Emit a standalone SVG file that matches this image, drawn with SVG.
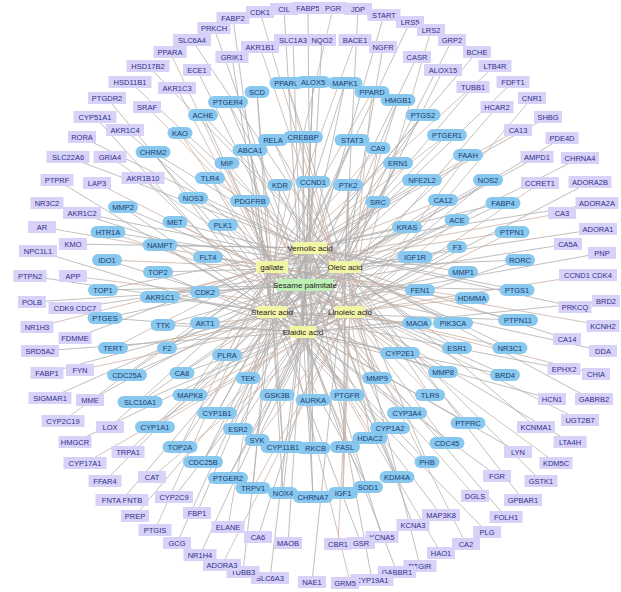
<svg xmlns="http://www.w3.org/2000/svg" width="621" height="592" viewBox="0 0 621 592">
<style>
text{font-family:"Liberation Sans",Arial,sans-serif;font-size:7.5px;text-anchor:middle}
.o rect{fill:#d8d2f8}
.o text{fill:#30308a}
.i rect{fill:#88c7ee}
.i text{fill:#1a3c72}
.c rect{fill:#f3f5a6}
.c.g rect{fill:#bdf0b4}
.c text{fill:#222;font-size:8px}
.e{fill:none;stroke:#aeaeae;stroke-width:0.8}
.e2{fill:none;stroke:#ccb2a4;stroke-width:0.8}
</style>
<rect width="621" height="592" fill="#fff"/>
<g id="connectors">
<path class="e" d="M310 248L308 8M310 248L477 52M310 248L548 117M310 248L600 203M310 248L575 307M310 248L591 399M310 248L541 481M310 248L413 525M310 248L372 580M310 248L177 543M310 248L197 513M310 248L110 427M310 248L75 338M310 248L73 244M310 248L68 157M310 248L130 82M310 248L322 40M310 248L345 83M310 248L423 115M310 248L503 203M310 248L517 290M310 248L468 423M310 248L397 477M310 248L283 493M310 248L203 462M310 248L127 375M310 248L103 290M310 248L153 152M310 248L228 102M310 248L352 140M310 248L422 180M310 248L463 272M310 248L457 348M310 248L390 428M310 248L313 448M310 248L217 413M310 248L313 400M310 248L417 323M310 248L407 227M310 248L280 185M310 248L193 198M310 248L160 245M310 248L205 292M310 248L167 348M310 248L248 378"/>
<path class="e2" d="M272 267L170 52M272 267L333 8M272 267L495 66M272 267L518 130M272 267L562 213M272 267L606 326M272 267L580 420M272 267L475 496M272 267L441 553M272 267L350 582M272 267L155 530M272 267L228 527M272 267L63 421M272 267L37 327M272 267L42 227M272 267L110 157M272 267L177 88M272 267L355 40M272 267L257 92M272 267L372 92M272 267L447 135M272 267L512 232M272 267L518 320M272 267L447 443M272 267L368 487M272 267L253 488M272 267L180 447M272 267L113 348M272 267L107 260M272 267L180 133M272 267L250 150M272 267L378 148M272 267L443 200M272 267L472 298M272 267L443 372M272 267L370 438M272 267L283 447M272 267L190 395M272 267L347 395M272 267L420 290M272 267L378 202M272 267L227 163M272 267L250 201M272 267L208 257M272 267L160 297M272 267L227 355"/>
<path class="e" d="M345 267L192 40M345 267L358 9M345 267L443 70M345 267L562 138M345 267L598 229M345 267L567 339M345 267L536 427M345 267L523 500M345 267L420 566M345 267L312 582M345 267L135 516M345 267L258 537M345 267L50 398M345 267L75 308M345 267L82 213M345 267L82 137M345 267L148 66M345 267L383 47M345 267L287 83M345 267L398 100M345 267L468 155M345 267L520 260M345 267L510 348M345 267L427 462M345 267L343 493M345 267L228 478M345 267L155 427M345 267L105 318M345 267L108 232M345 267L203 115M345 267L273 140M345 267L398 163M345 267L457 220M345 267L453 323M345 267L430 395M345 267L345 447M345 267L257 440M345 267L277 395M345 267L377 378M345 267L415 257M345 267L348 185M345 267L210 178M345 267L175 222M345 267L158 272M345 267L205 323M345 267L182 373"/>
<path class="e" d="M305 285L214 28M305 285L384 15M305 285L473 87M305 285L537 157M305 285L568 244M305 285L603 351M305 285L570 442M305 285L506 517M305 285L382 537M305 285L270 578M305 285L122 500M305 285L288 543M305 285L90 400M305 285L32 302M305 285L47 203M305 285L125 130M305 285L197 70M305 285L417 57M305 285L313 82M305 285L423 115M305 285L488 180M305 285L517 290M305 285L505 375M305 285L397 477M305 285L313 497M305 285L203 462M305 285L140 402M305 285L103 290M305 285L123 207M305 285L228 102M305 285L303 137M305 285L422 180M305 285L457 247M305 285L457 348M305 285L407 413M305 285L313 448M305 285L238 429M305 285L313 400M305 285L400 353M305 285L407 227M305 285L313 182M305 285L193 198M305 285L223 225M305 285L205 292M305 285L163 325M305 285L248 378"/>
<path class="e" d="M272 312L233 18M272 312L410 22M272 312L513 82M272 312L580 158M272 312L602 253M272 312L564 369M272 312L518 452M272 312L487 532M272 312L361 543M272 312L243 572M272 312L105 481M272 312L128 452M272 312L47 373M272 312L30 276M272 312L57 180M272 312L95 117M272 312L232 57M272 312L257 92M272 312L345 83M272 312L447 135M272 312L503 203M272 312L518 320M272 312L468 423M272 312L368 487M272 312L283 493M272 312L180 447M272 312L127 375M272 312L107 260M272 312L153 152M272 312L250 150M272 312L352 140M272 312L443 200M272 312L463 272M272 312L443 372M272 312L390 428M272 312L283 447M272 312L217 413M272 312L347 395M272 312L417 323M272 312L378 202M272 312L280 185M272 312L250 201M272 312L160 245M272 312L160 297M272 312L167 348"/>
<path class="e2" d="M350 312L260 12M350 312L431 30M350 312L532 98M350 312L540 183M350 312L588 275M350 312L596 374M350 312L556 463M350 312L466 544M350 312L338 544M350 312L222 565M350 312L152 477M350 312L85 463M350 312L80 370M350 312L73 276M350 312L97 183M350 312L147 107M350 312L260 47M350 312L287 83M350 312L372 92M350 312L468 155M350 312L512 232M350 312L510 348M350 312L447 443M350 312L343 493M350 312L253 488M350 312L155 427M350 312L113 348M350 312L108 232M350 312L180 133M350 312L273 140M350 312L378 148M350 312L457 220M350 312L472 298M350 312L430 395M350 312L370 438M350 312L257 440M350 312L190 395M350 312L377 378M350 312L420 290M350 312L348 185M350 312L227 163M350 312L175 222M350 312L208 257M350 312L205 323M350 312L227 355"/>
<path class="e" d="M303 332L284 9M303 332L452 40M303 332L497 107M303 332L590 182M303 332L606 301M303 332L552 399M303 332L497 476M303 332L441 515M303 332L397 572M303 332L200 555M303 332L174 497M303 332L75 442M303 332L40 351M303 332L38 251M303 332L143 178M303 332L107 98M303 332L293 40M303 332L313 82M303 332L398 100M303 332L488 180M303 332L520 260M303 332L505 375M303 332L427 462M303 332L313 497M303 332L228 478M303 332L140 402M303 332L105 318M303 332L123 207M303 332L203 115M303 332L303 137M303 332L398 163M303 332L457 247M303 332L453 323M303 332L407 413M303 332L345 447M303 332L238 429M303 332L277 395M303 332L400 353M303 332L415 257M303 332L313 182M303 332L210 178M303 332L223 225M303 332L158 272M303 332L163 325M303 332L182 373"/>
</g>
<g id="outer-nodes">
<g id="o-PPARA" class="o" transform="translate(170 52)"><rect x="-16.5" y="-6" width="33" height="12"/><text y="2.6">PPARA</text></g>
<g id="o-SLC6A4" class="o" transform="translate(192 40)"><rect x="-19" y="-6" width="38" height="12"/><text y="2.6">SLC6A4</text></g>
<g id="o-PRKCH" class="o" transform="translate(214 28)"><rect x="-16.5" y="-6" width="33" height="12"/><text y="2.6">PRKCH</text></g>
<g id="o-FABP2" class="o" transform="translate(233 18)"><rect x="-16.5" y="-6" width="33" height="12"/><text y="2.6">FABP2</text></g>
<g id="o-CDK1" class="o" transform="translate(260 12)"><rect x="-14" y="-6" width="28" height="12"/><text y="2.6">CDK1</text></g>
<g id="o-CIL" class="o" transform="translate(284 9)"><rect x="-14" y="-6" width="28" height="12"/><text y="2.6">CIL</text></g>
<g id="o-FABP5" class="o" transform="translate(308 8)"><rect x="-16.5" y="-6" width="33" height="12"/><text y="2.6">FABP5</text></g>
<g id="o-PGR" class="o" transform="translate(333 8)"><rect x="-14" y="-6" width="28" height="12"/><text y="2.6">PGR</text></g>
<g id="o-JDP" class="o" transform="translate(358 9)"><rect x="-14" y="-6" width="28" height="12"/><text y="2.6">JDP</text></g>
<g id="o-START" class="o" transform="translate(384 15)"><rect x="-16.5" y="-6" width="33" height="12"/><text y="2.6">START</text></g>
<g id="o-LRS5" class="o" transform="translate(410 22)"><rect x="-14" y="-6" width="28" height="12"/><text y="2.6">LRS5</text></g>
<g id="o-LRS2" class="o" transform="translate(431 30)"><rect x="-14" y="-6" width="28" height="12"/><text y="2.6">LRS2</text></g>
<g id="o-GRP2" class="o" transform="translate(452 40)"><rect x="-14" y="-6" width="28" height="12"/><text y="2.6">GRP2</text></g>
<g id="o-BCHE" class="o" transform="translate(477 52)"><rect x="-14" y="-6" width="28" height="12"/><text y="2.6">BCHE</text></g>
<g id="o-LTB4R" class="o" transform="translate(495 66)"><rect x="-16.5" y="-6" width="33" height="12"/><text y="2.6">LTB4R</text></g>
<g id="o-ALOX15" class="o" transform="translate(443 70)"><rect x="-19" y="-6" width="38" height="12"/><text y="2.6">ALOX15</text></g>
<g id="o-TUBB1" class="o" transform="translate(473 87)"><rect x="-16.5" y="-6" width="33" height="12"/><text y="2.6">TUBB1</text></g>
<g id="o-FDFT1" class="o" transform="translate(513 82)"><rect x="-16.5" y="-6" width="33" height="12"/><text y="2.6">FDFT1</text></g>
<g id="o-CNR1" class="o" transform="translate(532 98)"><rect x="-14" y="-6" width="28" height="12"/><text y="2.6">CNR1</text></g>
<g id="o-HCAR2" class="o" transform="translate(497 107)"><rect x="-16.5" y="-6" width="33" height="12"/><text y="2.6">HCAR2</text></g>
<g id="o-SHBG" class="o" transform="translate(548 117)"><rect x="-14" y="-6" width="28" height="12"/><text y="2.6">SHBG</text></g>
<g id="o-CA13" class="o" transform="translate(518 130)"><rect x="-14" y="-6" width="28" height="12"/><text y="2.6">CA13</text></g>
<g id="o-PDE4D" class="o" transform="translate(562 138)"><rect x="-16.5" y="-6" width="33" height="12"/><text y="2.6">PDE4D</text></g>
<g id="o-AMPD1" class="o" transform="translate(537 157)"><rect x="-16.5" y="-6" width="33" height="12"/><text y="2.6">AMPD1</text></g>
<g id="o-CHRNA4" class="o" transform="translate(580 158)"><rect x="-19" y="-6" width="38" height="12"/><text y="2.6">CHRNA4</text></g>
<g id="o-CCRET1" class="o" transform="translate(540 183)"><rect x="-19" y="-6" width="38" height="12"/><text y="2.6">CCRET1</text></g>
<g id="o-ADORA2B" class="o" transform="translate(590 182)"><rect x="-21.5" y="-6" width="43" height="12"/><text y="2.6">ADORA2B</text></g>
<g id="o-ADORA2A" class="o" transform="translate(597 203)"><rect x="-21.5" y="-6" width="43" height="12"/><text y="2.6">ADORA2A</text></g>
<g id="o-CA3" class="o" transform="translate(562 213)"><rect x="-14" y="-6" width="28" height="12"/><text y="2.6">CA3</text></g>
<g id="o-ADORA1" class="o" transform="translate(598 229)"><rect x="-19" y="-6" width="38" height="12"/><text y="2.6">ADORA1</text></g>
<g id="o-CA5A" class="o" transform="translate(568 244)"><rect x="-14" y="-6" width="28" height="12"/><text y="2.6">CA5A</text></g>
<g id="o-PNP" class="o" transform="translate(602 253)"><rect x="-14" y="-6" width="28" height="12"/><text y="2.6">PNP</text></g>
<g id="o-CCND1-CDK4" class="o" transform="translate(588 275)"><rect x="-29" y="-6" width="58" height="12"/><text y="2.6">CCND1 CDK4</text></g>
<g id="o-BRD2" class="o" transform="translate(606 301)"><rect x="-14" y="-6" width="28" height="12"/><text y="2.6">BRD2</text></g>
<g id="o-PRKCQ" class="o" transform="translate(575 307)"><rect x="-16.5" y="-6" width="33" height="12"/><text y="2.6">PRKCQ</text></g>
<g id="o-KCNH2" class="o" transform="translate(603 326)"><rect x="-16.5" y="-6" width="33" height="12"/><text y="2.6">KCNH2</text></g>
<g id="o-CA14" class="o" transform="translate(567 339)"><rect x="-14" y="-6" width="28" height="12"/><text y="2.6">CA14</text></g>
<g id="o-DDA" class="o" transform="translate(603 351)"><rect x="-14" y="-6" width="28" height="12"/><text y="2.6">DDA</text></g>
<g id="o-EPHX2" class="o" transform="translate(564 369)"><rect x="-16.5" y="-6" width="33" height="12"/><text y="2.6">EPHX2</text></g>
<g id="o-CHIA" class="o" transform="translate(596 374)"><rect x="-14" y="-6" width="28" height="12"/><text y="2.6">CHIA</text></g>
<g id="o-HCN1" class="o" transform="translate(552 399)"><rect x="-14" y="-6" width="28" height="12"/><text y="2.6">HCN1</text></g>
<g id="o-GABRB2" class="o" transform="translate(594 399)"><rect x="-19" y="-6" width="38" height="12"/><text y="2.6">GABRB2</text></g>
<g id="o-UGT2B7" class="o" transform="translate(580 420)"><rect x="-19" y="-6" width="38" height="12"/><text y="2.6">UGT2B7</text></g>
<g id="o-KCNMA1" class="o" transform="translate(536 427)"><rect x="-19" y="-6" width="38" height="12"/><text y="2.6">KCNMA1</text></g>
<g id="o-LTA4H" class="o" transform="translate(570 442)"><rect x="-16.5" y="-6" width="33" height="12"/><text y="2.6">LTA4H</text></g>
<g id="o-LYN" class="o" transform="translate(518 452)"><rect x="-14" y="-6" width="28" height="12"/><text y="2.6">LYN</text></g>
<g id="o-KDM5C" class="o" transform="translate(556 463)"><rect x="-16.5" y="-6" width="33" height="12"/><text y="2.6">KDM5C</text></g>
<g id="o-FGR" class="o" transform="translate(497 476)"><rect x="-14" y="-6" width="28" height="12"/><text y="2.6">FGR</text></g>
<g id="o-GSTK1" class="o" transform="translate(541 481)"><rect x="-16.5" y="-6" width="33" height="12"/><text y="2.6">GSTK1</text></g>
<g id="o-DGLS" class="o" transform="translate(475 496)"><rect x="-14" y="-6" width="28" height="12"/><text y="2.6">DGLS</text></g>
<g id="o-GPBAR1" class="o" transform="translate(523 500)"><rect x="-19" y="-6" width="38" height="12"/><text y="2.6">GPBAR1</text></g>
<g id="o-FOLH1" class="o" transform="translate(506 517)"><rect x="-16.5" y="-6" width="33" height="12"/><text y="2.6">FOLH1</text></g>
<g id="o-PLG" class="o" transform="translate(487 532)"><rect x="-14" y="-6" width="28" height="12"/><text y="2.6">PLG</text></g>
<g id="o-CA2" class="o" transform="translate(466 544)"><rect x="-14" y="-6" width="28" height="12"/><text y="2.6">CA2</text></g>
<g id="o-MAP3K8" class="o" transform="translate(441 515)"><rect x="-19" y="-6" width="38" height="12"/><text y="2.6">MAP3K8</text></g>
<g id="o-KCNA3" class="o" transform="translate(413 525)"><rect x="-16.5" y="-6" width="33" height="12"/><text y="2.6">KCNA3</text></g>
<g id="o-HAO1" class="o" transform="translate(441 553)"><rect x="-14" y="-6" width="28" height="12"/><text y="2.6">HAO1</text></g>
<g id="o-PTGIR" class="o" transform="translate(420 566)"><rect x="-16.5" y="-6" width="33" height="12"/><text y="2.6">PTGIR</text></g>
<g id="o-KCNA5" class="o" transform="translate(382 537)"><rect x="-16.5" y="-6" width="33" height="12"/><text y="2.6">KCNA5</text></g>
<g id="o-GSR" class="o" transform="translate(361 543)"><rect x="-14" y="-6" width="28" height="12"/><text y="2.6">GSR</text></g>
<g id="o-CBR1" class="o" transform="translate(338 544)"><rect x="-14" y="-6" width="28" height="12"/><text y="2.6">CBR1</text></g>
<g id="o-GABBR1" class="o" transform="translate(397 572)"><rect x="-19" y="-6" width="38" height="12"/><text y="2.6">GABBR1</text></g>
<g id="o-CYP19A1" class="o" transform="translate(372 580)"><rect x="-21.5" y="-6" width="43" height="12"/><text y="2.6">CYP19A1</text></g>
<g id="o-GRM5" class="o" transform="translate(345 583)"><rect x="-14" y="-6" width="28" height="12"/><text y="2.6">GRM5</text></g>
<g id="o-NAE1" class="o" transform="translate(312 582)"><rect x="-14" y="-6" width="28" height="12"/><text y="2.6">NAE1</text></g>
<g id="o-SLC6A3" class="o" transform="translate(270 578)"><rect x="-19" y="-6" width="38" height="12"/><text y="2.6">SLC6A3</text></g>
<g id="o-TUBB3" class="o" transform="translate(243 572)"><rect x="-16.5" y="-6" width="33" height="12"/><text y="2.6">TUBB3</text></g>
<g id="o-ADORA3" class="o" transform="translate(222 565)"><rect x="-19" y="-6" width="38" height="12"/><text y="2.6">ADORA3</text></g>
<g id="o-NR1H4" class="o" transform="translate(200 555)"><rect x="-16.5" y="-6" width="33" height="12"/><text y="2.6">NR1H4</text></g>
<g id="o-GCG" class="o" transform="translate(177 543)"><rect x="-14" y="-6" width="28" height="12"/><text y="2.6">GCG</text></g>
<g id="o-PTGIS" class="o" transform="translate(155 530)"><rect x="-16.5" y="-6" width="33" height="12"/><text y="2.6">PTGIS</text></g>
<g id="o-PREP" class="o" transform="translate(135 516)"><rect x="-14" y="-6" width="28" height="12"/><text y="2.6">PREP</text></g>
<g id="o-FNTA-FNTB" class="o" transform="translate(122 500)"><rect x="-26.5" y="-6" width="53" height="12"/><text y="2.6">FNTA FNTB</text></g>
<g id="o-FFAR4" class="o" transform="translate(105 481)"><rect x="-16.5" y="-6" width="33" height="12"/><text y="2.6">FFAR4</text></g>
<g id="o-CAT" class="o" transform="translate(152 477)"><rect x="-14" y="-6" width="28" height="12"/><text y="2.6">CAT</text></g>
<g id="o-CYP2C9" class="o" transform="translate(174 497)"><rect x="-19" y="-6" width="38" height="12"/><text y="2.6">CYP2C9</text></g>
<g id="o-FBP1" class="o" transform="translate(197 513)"><rect x="-14" y="-6" width="28" height="12"/><text y="2.6">FBP1</text></g>
<g id="o-ELANE" class="o" transform="translate(228 527)"><rect x="-16.5" y="-6" width="33" height="12"/><text y="2.6">ELANE</text></g>
<g id="o-CA6" class="o" transform="translate(258 537)"><rect x="-14" y="-6" width="28" height="12"/><text y="2.6">CA6</text></g>
<g id="o-MAOB" class="o" transform="translate(288 543)"><rect x="-14" y="-6" width="28" height="12"/><text y="2.6">MAOB</text></g>
<g id="o-TRPA1" class="o" transform="translate(128 452)"><rect x="-16.5" y="-6" width="33" height="12"/><text y="2.6">TRPA1</text></g>
<g id="o-CYP17A1" class="o" transform="translate(85 463)"><rect x="-21.5" y="-6" width="43" height="12"/><text y="2.6">CYP17A1</text></g>
<g id="o-HMGCR" class="o" transform="translate(75 442)"><rect x="-16.5" y="-6" width="33" height="12"/><text y="2.6">HMGCR</text></g>
<g id="o-LOX" class="o" transform="translate(110 427)"><rect x="-14" y="-6" width="28" height="12"/><text y="2.6">LOX</text></g>
<g id="o-CYP2C19" class="o" transform="translate(63 421)"><rect x="-21.5" y="-6" width="43" height="12"/><text y="2.6">CYP2C19</text></g>
<g id="o-SIGMAR1" class="o" transform="translate(50 398)"><rect x="-21.5" y="-6" width="43" height="12"/><text y="2.6">SIGMAR1</text></g>
<g id="o-MME" class="o" transform="translate(90 400)"><rect x="-14" y="-6" width="28" height="12"/><text y="2.6">MME</text></g>
<g id="o-FABP1" class="o" transform="translate(47 373)"><rect x="-16.5" y="-6" width="33" height="12"/><text y="2.6">FABP1</text></g>
<g id="o-FYN" class="o" transform="translate(80 370)"><rect x="-14" y="-6" width="28" height="12"/><text y="2.6">FYN</text></g>
<g id="o-SRD5A2" class="o" transform="translate(40 351)"><rect x="-19" y="-6" width="38" height="12"/><text y="2.6">SRD5A2</text></g>
<g id="o-FDMME" class="o" transform="translate(75 338)"><rect x="-16.5" y="-6" width="33" height="12"/><text y="2.6">FDMME</text></g>
<g id="o-NR1H3" class="o" transform="translate(37 327)"><rect x="-16.5" y="-6" width="33" height="12"/><text y="2.6">NR1H3</text></g>
<g id="o-CDK9-CDC7" class="o" transform="translate(75 308)"><rect x="-26.5" y="-6" width="53" height="12"/><text y="2.6">CDK9 CDC7</text></g>
<g id="o-POLB" class="o" transform="translate(32 302)"><rect x="-14" y="-6" width="28" height="12"/><text y="2.6">POLB</text></g>
<g id="o-PTPN2" class="o" transform="translate(30 276)"><rect x="-16.5" y="-6" width="33" height="12"/><text y="2.6">PTPN2</text></g>
<g id="o-APP" class="o" transform="translate(73 276)"><rect x="-14" y="-6" width="28" height="12"/><text y="2.6">APP</text></g>
<g id="o-NPC1L1" class="o" transform="translate(38 251)"><rect x="-19" y="-6" width="38" height="12"/><text y="2.6">NPC1L1</text></g>
<g id="o-KMO" class="o" transform="translate(73 244)"><rect x="-14" y="-6" width="28" height="12"/><text y="2.6">KMO</text></g>
<g id="o-AR" class="o" transform="translate(42 227)"><rect x="-14" y="-6" width="28" height="12"/><text y="2.6">AR</text></g>
<g id="o-AKR1C2" class="o" transform="translate(82 213)"><rect x="-19" y="-6" width="38" height="12"/><text y="2.6">AKR1C2</text></g>
<g id="o-NR3C2" class="o" transform="translate(47 203)"><rect x="-16.5" y="-6" width="33" height="12"/><text y="2.6">NR3C2</text></g>
<g id="o-PTPRF" class="o" transform="translate(57 180)"><rect x="-16.5" y="-6" width="33" height="12"/><text y="2.6">PTPRF</text></g>
<g id="o-LAP3" class="o" transform="translate(97 183)"><rect x="-14" y="-6" width="28" height="12"/><text y="2.6">LAP3</text></g>
<g id="o-AKR1B10" class="o" transform="translate(143 178)"><rect x="-21.5" y="-6" width="43" height="12"/><text y="2.6">AKR1B10</text></g>
<g id="o-SLC22A6" class="o" transform="translate(68 157)"><rect x="-21.5" y="-6" width="43" height="12"/><text y="2.6">SLC22A6</text></g>
<g id="o-GRIA4" class="o" transform="translate(110 157)"><rect x="-16.5" y="-6" width="33" height="12"/><text y="2.6">GRIA4</text></g>
<g id="o-RORA" class="o" transform="translate(82 137)"><rect x="-14" y="-6" width="28" height="12"/><text y="2.6">RORA</text></g>
<g id="o-AKR1C4" class="o" transform="translate(125 130)"><rect x="-19" y="-6" width="38" height="12"/><text y="2.6">AKR1C4</text></g>
<g id="o-CYP51A1" class="o" transform="translate(95 117)"><rect x="-21.5" y="-6" width="43" height="12"/><text y="2.6">CYP51A1</text></g>
<g id="o-SRAF" class="o" transform="translate(147 107)"><rect x="-14" y="-6" width="28" height="12"/><text y="2.6">SRAF</text></g>
<g id="o-PTGDR2" class="o" transform="translate(107 98)"><rect x="-19" y="-6" width="38" height="12"/><text y="2.6">PTGDR2</text></g>
<g id="o-HSD11B1" class="o" transform="translate(130 82)"><rect x="-21.5" y="-6" width="43" height="12"/><text y="2.6">HSD11B1</text></g>
<g id="o-AKR1C3" class="o" transform="translate(177 88)"><rect x="-19" y="-6" width="38" height="12"/><text y="2.6">AKR1C3</text></g>
<g id="o-HSD17B2" class="o" transform="translate(148 66)"><rect x="-21.5" y="-6" width="43" height="12"/><text y="2.6">HSD17B2</text></g>
<g id="o-ECE1" class="o" transform="translate(197 70)"><rect x="-14" y="-6" width="28" height="12"/><text y="2.6">ECE1</text></g>
<g id="o-GRIK1" class="o" transform="translate(232 57)"><rect x="-16.5" y="-6" width="33" height="12"/><text y="2.6">GRIK1</text></g>
<g id="o-AKR1B1" class="o" transform="translate(260 47)"><rect x="-19" y="-6" width="38" height="12"/><text y="2.6">AKR1B1</text></g>
<g id="o-SLC1A3" class="o" transform="translate(293 40)"><rect x="-19" y="-6" width="38" height="12"/><text y="2.6">SLC1A3</text></g>
<g id="o-NQO2" class="o" transform="translate(322 40)"><rect x="-14" y="-6" width="28" height="12"/><text y="2.6">NQO2</text></g>
<g id="o-BACE1" class="o" transform="translate(355 40)"><rect x="-16.5" y="-6" width="33" height="12"/><text y="2.6">BACE1</text></g>
<g id="o-NGFR" class="o" transform="translate(383 47)"><rect x="-14" y="-6" width="28" height="12"/><text y="2.6">NGFR</text></g>
<g id="o-CASR" class="o" transform="translate(417 57)"><rect x="-14" y="-6" width="28" height="12"/><text y="2.6">CASR</text></g>
</g>
<g id="inner-nodes">
<g id="i-SCD" class="i" transform="translate(257 92)"><rect x="-12.5" y="-6" width="25" height="12" rx="6"/><text y="2.6">SCD</text></g>
<g id="i-PPARG" class="i" transform="translate(287 83)"><rect x="-17.5" y="-6" width="35" height="12" rx="6"/><text y="2.6">PPARG</text></g>
<g id="i-ALOX5" class="i" transform="translate(313 82)"><rect x="-17.5" y="-6" width="35" height="12" rx="6"/><text y="2.6">ALOX5</text></g>
<g id="i-MAPK1" class="i" transform="translate(345 83)"><rect x="-17.5" y="-6" width="35" height="12" rx="6"/><text y="2.6">MAPK1</text></g>
<g id="i-PPARD" class="i" transform="translate(372 92)"><rect x="-17.5" y="-6" width="35" height="12" rx="6"/><text y="2.6">PPARD</text></g>
<g id="i-HMGB1" class="i" transform="translate(398 100)"><rect x="-17.5" y="-6" width="35" height="12" rx="6"/><text y="2.6">HMGB1</text></g>
<g id="i-PTGS2" class="i" transform="translate(423 115)"><rect x="-17.5" y="-6" width="35" height="12" rx="6"/><text y="2.6">PTGS2</text></g>
<g id="i-PTGER1" class="i" transform="translate(447 135)"><rect x="-20" y="-6" width="40" height="12" rx="6"/><text y="2.6">PTGER1</text></g>
<g id="i-FAAH" class="i" transform="translate(468 155)"><rect x="-15" y="-6" width="30" height="12" rx="6"/><text y="2.6">FAAH</text></g>
<g id="i-NOS2" class="i" transform="translate(488 180)"><rect x="-15" y="-6" width="30" height="12" rx="6"/><text y="2.6">NOS2</text></g>
<g id="i-FABP4" class="i" transform="translate(503 203)"><rect x="-17.5" y="-6" width="35" height="12" rx="6"/><text y="2.6">FABP4</text></g>
<g id="i-PTPN1" class="i" transform="translate(512 232)"><rect x="-17.5" y="-6" width="35" height="12" rx="6"/><text y="2.6">PTPN1</text></g>
<g id="i-RORC" class="i" transform="translate(520 260)"><rect x="-15" y="-6" width="30" height="12" rx="6"/><text y="2.6">RORC</text></g>
<g id="i-PTGS1" class="i" transform="translate(517 290)"><rect x="-17.5" y="-6" width="35" height="12" rx="6"/><text y="2.6">PTGS1</text></g>
<g id="i-PTPN11" class="i" transform="translate(518 320)"><rect x="-20" y="-6" width="40" height="12" rx="6"/><text y="2.6">PTPN11</text></g>
<g id="i-NR3C1" class="i" transform="translate(510 348)"><rect x="-17.5" y="-6" width="35" height="12" rx="6"/><text y="2.6">NR3C1</text></g>
<g id="i-BRD4" class="i" transform="translate(505 375)"><rect x="-15" y="-6" width="30" height="12" rx="6"/><text y="2.6">BRD4</text></g>
<g id="i-PTPRC" class="i" transform="translate(468 423)"><rect x="-17.5" y="-6" width="35" height="12" rx="6"/><text y="2.6">PTPRC</text></g>
<g id="i-CDC45" class="i" transform="translate(447 443)"><rect x="-17.5" y="-6" width="35" height="12" rx="6"/><text y="2.6">CDC45</text></g>
<g id="i-PHB" class="i" transform="translate(427 462)"><rect x="-12.5" y="-6" width="25" height="12" rx="6"/><text y="2.6">PHB</text></g>
<g id="i-KDM4A" class="i" transform="translate(397 477)"><rect x="-17.5" y="-6" width="35" height="12" rx="6"/><text y="2.6">KDM4A</text></g>
<g id="i-SOD1" class="i" transform="translate(368 487)"><rect x="-15" y="-6" width="30" height="12" rx="6"/><text y="2.6">SOD1</text></g>
<g id="i-IGF1" class="i" transform="translate(343 493)"><rect x="-15" y="-6" width="30" height="12" rx="6"/><text y="2.6">IGF1</text></g>
<g id="i-CHRNA7" class="i" transform="translate(313 497)"><rect x="-20" y="-6" width="40" height="12" rx="6"/><text y="2.6">CHRNA7</text></g>
<g id="i-NOX4" class="i" transform="translate(283 493)"><rect x="-15" y="-6" width="30" height="12" rx="6"/><text y="2.6">NOX4</text></g>
<g id="i-TRPV1" class="i" transform="translate(253 488)"><rect x="-17.5" y="-6" width="35" height="12" rx="6"/><text y="2.6">TRPV1</text></g>
<g id="i-PTGER2" class="i" transform="translate(228 478)"><rect x="-20" y="-6" width="40" height="12" rx="6"/><text y="2.6">PTGER2</text></g>
<g id="i-CDC25B" class="i" transform="translate(203 462)"><rect x="-20" y="-6" width="40" height="12" rx="6"/><text y="2.6">CDC25B</text></g>
<g id="i-TOP2A" class="i" transform="translate(180 447)"><rect x="-17.5" y="-6" width="35" height="12" rx="6"/><text y="2.6">TOP2A</text></g>
<g id="i-CYP1A1" class="i" transform="translate(155 427)"><rect x="-20" y="-6" width="40" height="12" rx="6"/><text y="2.6">CYP1A1</text></g>
<g id="i-SLC10A1" class="i" transform="translate(140 402)"><rect x="-22.5" y="-6" width="45" height="12" rx="6"/><text y="2.6">SLC10A1</text></g>
<g id="i-CDC25A" class="i" transform="translate(127 375)"><rect x="-20" y="-6" width="40" height="12" rx="6"/><text y="2.6">CDC25A</text></g>
<g id="i-TERT" class="i" transform="translate(113 348)"><rect x="-15" y="-6" width="30" height="12" rx="6"/><text y="2.6">TERT</text></g>
<g id="i-PTGES" class="i" transform="translate(105 318)"><rect x="-17.5" y="-6" width="35" height="12" rx="6"/><text y="2.6">PTGES</text></g>
<g id="i-TOP1" class="i" transform="translate(103 290)"><rect x="-15" y="-6" width="30" height="12" rx="6"/><text y="2.6">TOP1</text></g>
<g id="i-IDO1" class="i" transform="translate(107 260)"><rect x="-15" y="-6" width="30" height="12" rx="6"/><text y="2.6">IDO1</text></g>
<g id="i-HTR1A" class="i" transform="translate(108 232)"><rect x="-17.5" y="-6" width="35" height="12" rx="6"/><text y="2.6">HTR1A</text></g>
<g id="i-MMP2" class="i" transform="translate(123 207)"><rect x="-15" y="-6" width="30" height="12" rx="6"/><text y="2.6">MMP2</text></g>
<g id="i-CHRM2" class="i" transform="translate(153 152)"><rect x="-17.5" y="-6" width="35" height="12" rx="6"/><text y="2.6">CHRM2</text></g>
<g id="i-KAO" class="i" transform="translate(180 133)"><rect x="-12.5" y="-6" width="25" height="12" rx="6"/><text y="2.6">KAO</text></g>
<g id="i-ACHE" class="i" transform="translate(203 115)"><rect x="-15" y="-6" width="30" height="12" rx="6"/><text y="2.6">ACHE</text></g>
<g id="i-PTGER4" class="i" transform="translate(228 102)"><rect x="-20" y="-6" width="40" height="12" rx="6"/><text y="2.6">PTGER4</text></g>
<g id="i-ABCA1" class="i" transform="translate(250 150)"><rect x="-17.5" y="-6" width="35" height="12" rx="6"/><text y="2.6">ABCA1</text></g>
<g id="i-RELA" class="i" transform="translate(273 140)"><rect x="-15" y="-6" width="30" height="12" rx="6"/><text y="2.6">RELA</text></g>
<g id="i-CREBBP" class="i" transform="translate(303 137)"><rect x="-20" y="-6" width="40" height="12" rx="6"/><text y="2.6">CREBBP</text></g>
<g id="i-STAT3" class="i" transform="translate(352 140)"><rect x="-17.5" y="-6" width="35" height="12" rx="6"/><text y="2.6">STAT3</text></g>
<g id="i-CA9" class="i" transform="translate(378 148)"><rect x="-12.5" y="-6" width="25" height="12" rx="6"/><text y="2.6">CA9</text></g>
<g id="i-ERN1" class="i" transform="translate(398 163)"><rect x="-15" y="-6" width="30" height="12" rx="6"/><text y="2.6">ERN1</text></g>
<g id="i-NFE2L2" class="i" transform="translate(422 180)"><rect x="-20" y="-6" width="40" height="12" rx="6"/><text y="2.6">NFE2L2</text></g>
<g id="i-CA12" class="i" transform="translate(443 200)"><rect x="-15" y="-6" width="30" height="12" rx="6"/><text y="2.6">CA12</text></g>
<g id="i-ACE" class="i" transform="translate(457 220)"><rect x="-12.5" y="-6" width="25" height="12" rx="6"/><text y="2.6">ACE</text></g>
<g id="i-F3" class="i" transform="translate(457 247)"><rect x="-10" y="-6" width="20" height="12" rx="6"/><text y="2.6">F3</text></g>
<g id="i-MMP1" class="i" transform="translate(463 272)"><rect x="-15" y="-6" width="30" height="12" rx="6"/><text y="2.6">MMP1</text></g>
<g id="i-HDMMA" class="i" transform="translate(472 298)"><rect x="-17.5" y="-6" width="35" height="12" rx="6"/><text y="2.6">HDMMA</text></g>
<g id="i-PIK3CA" class="i" transform="translate(453 323)"><rect x="-20" y="-6" width="40" height="12" rx="6"/><text y="2.6">PIK3CA</text></g>
<g id="i-ESR1" class="i" transform="translate(457 348)"><rect x="-15" y="-6" width="30" height="12" rx="6"/><text y="2.6">ESR1</text></g>
<g id="i-MMP8" class="i" transform="translate(443 372)"><rect x="-15" y="-6" width="30" height="12" rx="6"/><text y="2.6">MMP8</text></g>
<g id="i-TLR9" class="i" transform="translate(430 395)"><rect x="-15" y="-6" width="30" height="12" rx="6"/><text y="2.6">TLR9</text></g>
<g id="i-CYP3A4" class="i" transform="translate(407 413)"><rect x="-20" y="-6" width="40" height="12" rx="6"/><text y="2.6">CYP3A4</text></g>
<g id="i-CYP1A2" class="i" transform="translate(390 428)"><rect x="-20" y="-6" width="40" height="12" rx="6"/><text y="2.6">CYP1A2</text></g>
<g id="i-HDAC2" class="i" transform="translate(370 438)"><rect x="-17.5" y="-6" width="35" height="12" rx="6"/><text y="2.6">HDAC2</text></g>
<g id="i-FASL" class="i" transform="translate(345 447)"><rect x="-15" y="-6" width="30" height="12" rx="6"/><text y="2.6">FASL</text></g>
<g id="i-PRKCB" class="i" transform="translate(313 448)"><rect x="-17.5" y="-6" width="35" height="12" rx="6"/><text y="2.6">PRKCB</text></g>
<g id="i-CYP11B1" class="i" transform="translate(283 447)"><rect x="-22.5" y="-6" width="45" height="12" rx="6"/><text y="2.6">CYP11B1</text></g>
<g id="i-SYK" class="i" transform="translate(257 440)"><rect x="-12.5" y="-6" width="25" height="12" rx="6"/><text y="2.6">SYK</text></g>
<g id="i-ESR2" class="i" transform="translate(238 429)"><rect x="-15" y="-6" width="30" height="12" rx="6"/><text y="2.6">ESR2</text></g>
<g id="i-CYP1B1" class="i" transform="translate(217 413)"><rect x="-20" y="-6" width="40" height="12" rx="6"/><text y="2.6">CYP1B1</text></g>
<g id="i-MAPK8" class="i" transform="translate(190 395)"><rect x="-17.5" y="-6" width="35" height="12" rx="6"/><text y="2.6">MAPK8</text></g>
<g id="i-GSK3B" class="i" transform="translate(277 395)"><rect x="-17.5" y="-6" width="35" height="12" rx="6"/><text y="2.6">GSK3B</text></g>
<g id="i-AURKA" class="i" transform="translate(313 400)"><rect x="-17.5" y="-6" width="35" height="12" rx="6"/><text y="2.6">AURKA</text></g>
<g id="i-PTGFR" class="i" transform="translate(347 395)"><rect x="-17.5" y="-6" width="35" height="12" rx="6"/><text y="2.6">PTGFR</text></g>
<g id="i-MMP9" class="i" transform="translate(377 378)"><rect x="-15" y="-6" width="30" height="12" rx="6"/><text y="2.6">MMP9</text></g>
<g id="i-CYP2E1" class="i" transform="translate(400 353)"><rect x="-20" y="-6" width="40" height="12" rx="6"/><text y="2.6">CYP2E1</text></g>
<g id="i-MAOA" class="i" transform="translate(417 323)"><rect x="-15" y="-6" width="30" height="12" rx="6"/><text y="2.6">MAOA</text></g>
<g id="i-FEN1" class="i" transform="translate(420 290)"><rect x="-15" y="-6" width="30" height="12" rx="6"/><text y="2.6">FEN1</text></g>
<g id="i-IGF1R" class="i" transform="translate(415 257)"><rect x="-17.5" y="-6" width="35" height="12" rx="6"/><text y="2.6">IGF1R</text></g>
<g id="i-KRAS" class="i" transform="translate(407 227)"><rect x="-15" y="-6" width="30" height="12" rx="6"/><text y="2.6">KRAS</text></g>
<g id="i-SRC" class="i" transform="translate(378 202)"><rect x="-12.5" y="-6" width="25" height="12" rx="6"/><text y="2.6">SRC</text></g>
<g id="i-PTK2" class="i" transform="translate(348 185)"><rect x="-15" y="-6" width="30" height="12" rx="6"/><text y="2.6">PTK2</text></g>
<g id="i-CCND1" class="i" transform="translate(313 182)"><rect x="-17.5" y="-6" width="35" height="12" rx="6"/><text y="2.6">CCND1</text></g>
<g id="i-KDR" class="i" transform="translate(280 185)"><rect x="-12.5" y="-6" width="25" height="12" rx="6"/><text y="2.6">KDR</text></g>
<g id="i-MIF" class="i" transform="translate(227 163)"><rect x="-12.5" y="-6" width="25" height="12" rx="6"/><text y="2.6">MIF</text></g>
<g id="i-TLR4" class="i" transform="translate(210 178)"><rect x="-15" y="-6" width="30" height="12" rx="6"/><text y="2.6">TLR4</text></g>
<g id="i-NOS3" class="i" transform="translate(193 198)"><rect x="-15" y="-6" width="30" height="12" rx="6"/><text y="2.6">NOS3</text></g>
<g id="i-PDGFRB" class="i" transform="translate(250 201)"><rect x="-20" y="-6" width="40" height="12" rx="6"/><text y="2.6">PDGFRB</text></g>
<g id="i-MET" class="i" transform="translate(175 222)"><rect x="-12.5" y="-6" width="25" height="12" rx="6"/><text y="2.6">MET</text></g>
<g id="i-PLK1" class="i" transform="translate(223 225)"><rect x="-15" y="-6" width="30" height="12" rx="6"/><text y="2.6">PLK1</text></g>
<g id="i-NAMPT" class="i" transform="translate(160 245)"><rect x="-17.5" y="-6" width="35" height="12" rx="6"/><text y="2.6">NAMPT</text></g>
<g id="i-FLT4" class="i" transform="translate(208 257)"><rect x="-15" y="-6" width="30" height="12" rx="6"/><text y="2.6">FLT4</text></g>
<g id="i-TOP2" class="i" transform="translate(158 272)"><rect x="-15" y="-6" width="30" height="12" rx="6"/><text y="2.6">TOP2</text></g>
<g id="i-CDK2" class="i" transform="translate(205 292)"><rect x="-15" y="-6" width="30" height="12" rx="6"/><text y="2.6">CDK2</text></g>
<g id="i-AKR1C1" class="i" transform="translate(160 297)"><rect x="-20" y="-6" width="40" height="12" rx="6"/><text y="2.6">AKR1C1</text></g>
<g id="i-AKT1" class="i" transform="translate(205 323)"><rect x="-15" y="-6" width="30" height="12" rx="6"/><text y="2.6">AKT1</text></g>
<g id="i-TTK" class="i" transform="translate(163 325)"><rect x="-12.5" y="-6" width="25" height="12" rx="6"/><text y="2.6">TTK</text></g>
<g id="i-F2" class="i" transform="translate(167 348)"><rect x="-10" y="-6" width="20" height="12" rx="6"/><text y="2.6">F2</text></g>
<g id="i-PLRA" class="i" transform="translate(227 355)"><rect x="-15" y="-6" width="30" height="12" rx="6"/><text y="2.6">PLRA</text></g>
<g id="i-CA8" class="i" transform="translate(182 373)"><rect x="-12.5" y="-6" width="25" height="12" rx="6"/><text y="2.6">CA8</text></g>
<g id="i-TEK" class="i" transform="translate(248 378)"><rect x="-12.5" y="-6" width="25" height="12" rx="6"/><text y="2.6">TEK</text></g>
</g>
<g id="compounds">
<g id="c-vernolic" class="c" transform="translate(310 248)"><rect x="-17" y="-6" width="34" height="12"/><text y="2.8">Vernolic acid</text></g>
<g id="c-gallate" class="c" transform="translate(272 267)"><rect x="-16" y="-6" width="32" height="12"/><text y="2.8">gallate</text></g>
<g id="c-oleic" class="c" transform="translate(345 267)"><rect x="-16" y="-6" width="32" height="12"/><text y="2.8">Oleic acid</text></g>
<g id="c-sesame" class="c g" transform="translate(305 285)"><rect x="-28" y="-6" width="56" height="12"/><text y="2.8">Sesame palmitate</text></g>
<g id="c-stearic" class="c" transform="translate(272 312)"><rect x="-15" y="-6" width="30" height="12"/><text y="2.8">Stearic acid</text></g>
<g id="c-linoleic" class="c" transform="translate(350 312)"><rect x="-15" y="-6" width="30" height="12"/><text y="2.8">Linoleic acid</text></g>
<g id="c-elaidic" class="c" transform="translate(303 332)"><rect x="-13" y="-6" width="26" height="12"/><text y="2.8">Elaidic acid</text></g>
</g>
</svg>
